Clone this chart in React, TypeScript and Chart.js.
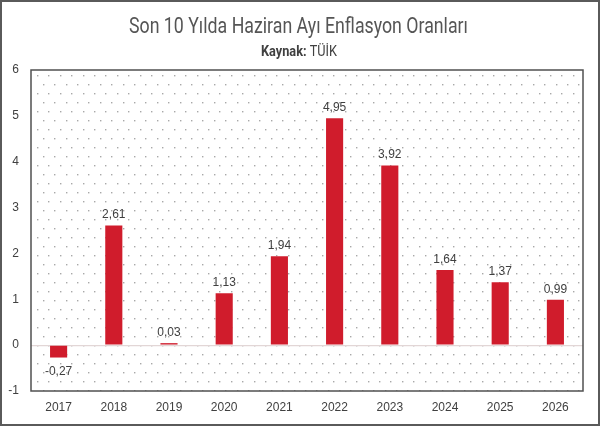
import React, { useEffect, useRef } from "react";
import { Chart, registerables } from "chart.js";

Chart.register(...registerables);

const years = ["2017", "2018", "2019", "2020", "2021", "2022", "2023", "2024", "2025", "2026"];
const rates = [-0.27, 2.61, 0.03, 1.13, 1.94, 4.95, 3.92, 1.64, 1.37, 0.99];
const titleText = "Son 10 Yılda Haziran Ayı Enflasyon Oranları";
const subtitleBold = "Kaynak:";
const subtitleRegular = " TÜİK";

const fmt = (v: number) => v.toFixed(2).replace(".", ",");

const decorPlugin = {
  id: "decor",
  beforeDraw(chart: any) {
    const { ctx, chartArea: a, width, height } = chart;
    ctx.save();
    ctx.fillStyle = "#ffffff";
    ctx.fillRect(0, 0, width, height);
    // dotted background
    ctx.beginPath();
    ctx.rect(a.left, a.top, a.right - a.left, a.bottom - a.top);
    ctx.clip();
    ctx.fillStyle = "#a8a8a8";
    const dx = 11.4;
    const dy = 9;
    let row = 0;
    for (let y = a.top + 5; y < a.bottom; y += dy, row++) {
      const off = row % 2 === 0 ? 6 : 6 + dx / 2;
      for (let x = a.left + off; x < a.right; x += dx) {
        ctx.fillRect(Math.round(x), Math.round(y), 1.4, 1.4);
      }
    }
    ctx.restore();
  },
  afterDatasetsDraw(chart: any) {
    const { ctx, chartArea: a } = chart;
    const meta = chart.getDatasetMeta(0);
    ctx.save();
    ctx.font = '12px "Liberation Sans", Arial, sans-serif';
    ctx.fillStyle = "#404040";
    ctx.textAlign = "center";
    meta.data.forEach((bar: any, i: number) => {
      const v = rates[i];
      if (v >= 0) {
        ctx.textBaseline = "alphabetic";
        ctx.fillText(fmt(v), bar.x, bar.y - 7);
      } else {
        ctx.textBaseline = "top";
        ctx.fillText(fmt(v), bar.x, bar.y + 8);
      }
    });
    // plot border
    ctx.strokeStyle = "#505050";
    ctx.lineWidth = 1.5;
    ctx.strokeRect(a.left, a.top, a.right - a.left, a.bottom - a.top);
    ctx.restore();
  },
  afterDraw(chart: any) {
    const { ctx, width, height } = chart;
    ctx.save();
    // title
    ctx.fillStyle = "#555555";
    ctx.textAlign = "center";
    ctx.textBaseline = "alphabetic";
    ctx.font = '22px Roboto, "Liberation Sans", sans-serif';
    ctx.fillText(titleText, 298.5, 33, 339);
    // subtitle with mixed weights
    const boldFont = 'bold 15px Roboto, "Liberation Sans", sans-serif';
    const regFont = '15px Roboto, "Liberation Sans", sans-serif';
    ctx.font = boldFont;
    const wb = ctx.measureText(subtitleBold).width;
    ctx.font = regFont;
    const wr = ctx.measureText(subtitleRegular).width;
    const total = wb + wr;
    const s = Math.min(1, 76 / total);
    ctx.translate(299, 56);
    ctx.scale(s, 1);
    ctx.textAlign = "left";
    ctx.fillStyle = "#404040";
    ctx.font = boldFont;
    ctx.fillText(subtitleBold, -total / 2, 0);
    ctx.font = regFont;
    ctx.fillText(subtitleRegular, -total / 2 + wb, 0);
    ctx.restore();
    // outer frame
    ctx.save();
    ctx.strokeStyle = "#5a5a5a";
    ctx.lineWidth = 2;
    ctx.strokeRect(1, 1, width - 2, height - 2);
    ctx.restore();
  },
};

export default function App() {
  const ref = useRef<HTMLCanvasElement | null>(null);
  useEffect(() => {
    document.body.style.margin = "0";
    const canvas = ref.current;
    if (!canvas) return;
    const chart = new Chart(canvas, {
      type: "bar",
      data: {
        labels: years,
        datasets: [
          {
            data: rates,
            backgroundColor: "#d01c2c",
            borderWidth: 0,
            minBarLength: 2,
            barPercentage: 0.31,
            categoryPercentage: 1,
          },
        ],
      },
      options: {
        animation: false,
        responsive: false,
        maintainAspectRatio: false,
        devicePixelRatio: 1,
        layout: { padding: { left: 0, right: 17, top: 70, bottom: 0 } },
        plugins: {
          legend: { display: false },
          title: { display: false },
          tooltip: { enabled: false },
        },
        scales: {
          x: {
            afterFit: (scale: any) => {
              scale.height = 35;
            },
            grid: { display: false, drawTicks: false },
            border: { display: false },
            ticks: {
              padding: 9,
              color: "#404040",
              font: { family: '"Liberation Sans", Arial, sans-serif', size: 12 },
            },
          },
          y: {
            min: -1,
            max: 6,
            afterFit: (scale: any) => {
              scale.width = 31;
            },
            grid: {
              drawTicks: false,
              color: (c: any) => (c.tick && c.tick.value === 0 ? "#e2d6d6" : "rgba(0,0,0,0)"),
              lineWidth: 1.2,
            },
            border: { display: false },
            ticks: {
              stepSize: 1,
              padding: 12,
              color: "#404040",
              font: { family: '"Liberation Sans", Arial, sans-serif', size: 12 },
            },
          },
        },
      },
      plugins: [decorPlugin],
    });
    return () => chart.destroy();
  }, []);
  return (
    <div style={{ width: 600, height: 426 }}>
      <canvas ref={ref} width={600} height={426} style={{ display: "block" }} />
    </div>
  );
}
